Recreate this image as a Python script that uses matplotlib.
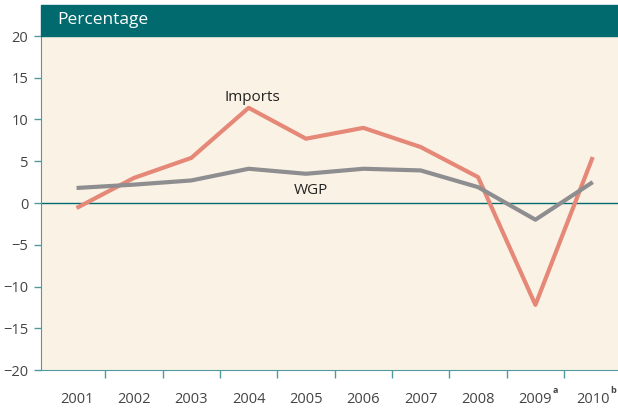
import numpy as np
import matplotlib.pyplot as plt
from matplotlib.patches import Rectangle

plt.rcParams['font.family'] = ['Open Sans', 'DejaVu Sans']

years = ['2001', '2002', '2003', '2004', '2005', '2006', '2007', '2008', '2009', '2010']
year_notes = ['', '', '', '', '', '', '', '', 'a', 'b']
imports = [-0.6, 3.0, 5.4, 11.4, 7.7, 9.0, 6.7, 3.1, -12.2, 5.5]
wgp = [1.8, 2.2, 2.7, 4.1, 3.5, 4.1, 3.9, 1.9, -2.0, 2.5]

teal = '#006a6e'
spine_col = '#4f9a9c'
bg = '#fbf2e6'

fig = plt.figure(figsize=(6.18, 4.11), dpi=100)
ax = fig.add_axes([41/618, 1-370/411, 1-41/618, (370-36)/411])
ax.set_facecolor(bg)

x = np.arange(len(years))
ax.plot(x, imports, color='#e58877', lw=3, solid_capstyle='butt', zorder=3)
ax.plot(x, wgp, color='#8e8e90', lw=3, solid_capstyle='butt', zorder=3)
ax.axhline(0, color=teal, lw=1, zorder=2)

ax.set_xlim(-0.62, 9.44)
ax.set_ylim(-20, 20)
ax.set_yticks(np.arange(-20, 21, 5))
ax.set_xticks(x)
ax.set_xticklabels(years)
ax.set_xticks(np.arange(0.5, 9, 1), minor=True)
ax.tick_params(axis='x', which='major', length=0, pad=16, labelsize=10.5, labelcolor='#444444')
ax.tick_params(axis='x', which='minor', length=6, color=spine_col, width=1)
ax.tick_params(axis='y', length=5, color=spine_col, width=1, labelsize=10.5, labelcolor='#444444', pad=4)

for s in ['top', 'right']:
    ax.spines[s].set_visible(False)
ax.spines['left'].set_color(spine_col)
ax.spines['bottom'].set_color(spine_col)

# superscript notes on the last two years
for i, n in enumerate(year_notes):
    if n:
        ax.annotate(n, xy=(i, 0), xycoords=('data', 'axes fraction'),
                    xytext=(12.5, -15), textcoords='offset points',
                    fontsize=6.5, fontweight='bold', color='#444444',
                    ha='left', va='center')

ax.text(3.07, 12.6, 'Imports', fontsize=11, color='#222222', ha='center', va='center')
ax.text(4.08, 1.5, 'WGP', fontsize=11, color='#222222', ha='center', va='center')

# header band
fig.patches.append(Rectangle((41/618, 1-36/411), 1-41/618, 31/411,
                             transform=fig.transFigure, color=teal, zorder=5))
fig.text(57/618, 1-20/411, 'Percentage', color='white', fontsize=12.5, va='center', zorder=6)

fig.savefig('out.png', dpi=100)
